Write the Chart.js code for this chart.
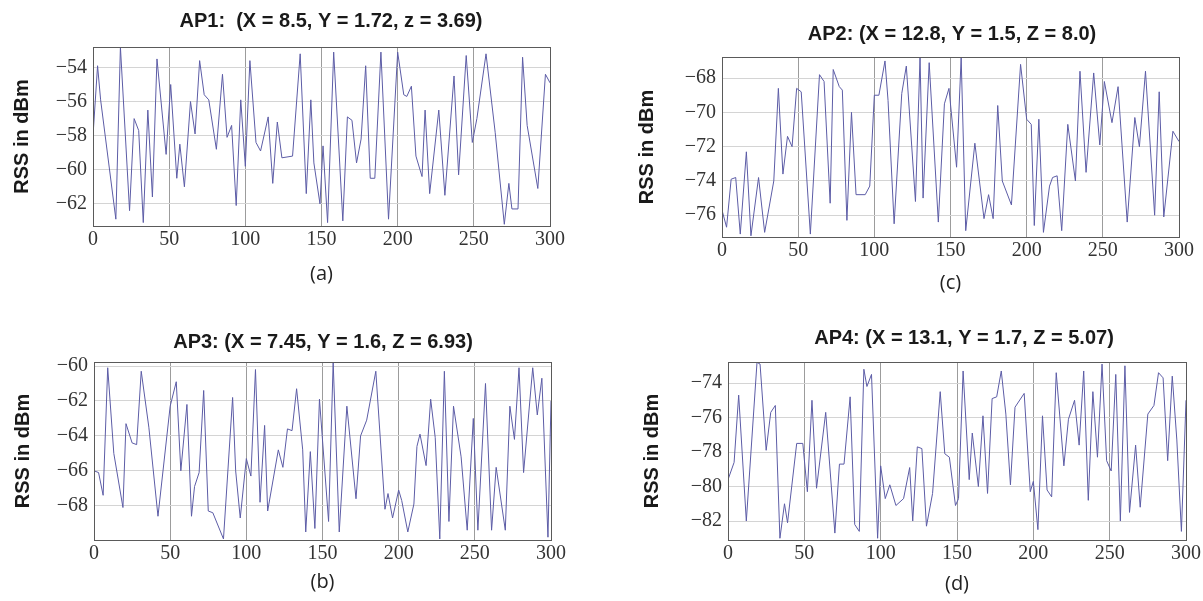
<!DOCTYPE html>
<html>
<head>
<meta charset="utf-8">
<title>RSS per access point</title>
<script src="https://cdn.jsdelivr.net/npm/chart.js@4.4.0/dist/chart.umd.min.js"></script>
<style>
    body { margin: 0; background: #fff; }
    .panel { position: absolute; }
</style>
</head>
<body>
<div class="panel" style="left:0px;top:0px;width:601px;height:300px"><canvas id="ap1"></canvas></div>
<div class="panel" style="left:601px;top:0px;width:602px;height:300px"><canvas id="ap2"></canvas></div>
<div class="panel" style="left:0px;top:300px;width:601px;height:301px"><canvas id="ap3"></canvas></div>
<div class="panel" style="left:601px;top:300px;width:602px;height:301px"><canvas id="ap4"></canvas></div>
<script>
// sample index ticks, shared by all panels
const xTicks = [0, 50, 100, 150, 200, 250, 300];

// AP1 (a)
const ap1Sample = [0, 3, 5, 15, 18, 24, 27, 30, 33, 36, 39, 42, 48, 51, 55, 57, 60, 64, 67, 70, 73, 76, 81, 85, 88, 91, 94, 97, 100, 103, 107, 110, 115, 118, 121, 124, 131, 136, 140, 143, 145, 149, 151, 154, 158, 164, 167, 170, 173, 176, 179, 182, 185, 189, 194, 200, 204, 206, 209, 212, 216, 218, 221, 227, 231, 237, 240, 245, 249, 252, 258, 264, 270, 273, 275, 279, 282, 285, 292, 297, 300];
const ap1Rss = [-58, -53.9, -55.9, -62.9, -52.8, -62.4, -57, -57.7, -63.1, -56.5, -61.6, -53.5, -59.1, -55, -60.5, -58.5, -61, -56, -57.9, -53.6, -55.6, -55.9, -58.8, -54.4, -58.1, -57.4, -62.1, -55.9, -59.8, -53.6, -58.4, -58.9, -56.9, -60.8, -57.2, -59.3, -59.2, -53.2, -61.4, -55.9, -59.6, -62, -58.6, -63.1, -53.1, -63, -56.9, -57.1, -59.6, -58.2, -53.9, -60.5, -60.5, -53.1, -62.9, -53.1, -55.6, -55.7, -55.1, -59.2, -60.4, -56.5, -61.4, -56.5, -61.5, -54.5, -60.3, -53.3, -58.4, -57, -53.2, -57.8, -63.2, -60.8, -62.3, -62.3, -53.4, -57.4, -61.1, -54.4, -54.9];
const ap1Ticks = [-62, -60, -58, -56, -54];

// AP2 (c)
const ap2Sample = [0, 3, 6, 9, 12, 16, 19, 24, 28, 34, 37, 40, 43, 46, 49, 52, 58, 64, 67, 71, 73, 77, 79, 82, 85, 88, 94, 97, 100, 103, 107, 109, 113, 118, 121, 127, 130, 132, 136, 142, 146, 149, 154, 157, 160, 166, 172, 175, 178, 181, 184, 190, 196, 200, 203, 205, 208, 211, 215, 217, 220, 223, 227, 232, 235, 239, 244, 248, 251, 256, 260, 266, 271, 274, 278, 284, 287, 290, 296, 300];
const ap2Rss = [-75.7, -76.7, -73.9, -73.8, -77.1, -72.3, -77.2, -73.8, -77, -74, -68.6, -73.6, -71.4, -72, -68.6, -68.8, -77.1, -67.8, -68.2, -75.3, -67.5, -68.5, -68.7, -76.3, -70, -74.8, -74.8, -74.3, -69, -69, -67, -69.3, -76.5, -68.9, -67.3, -75.2, -66.8, -75, -67.1, -76.4, -69.5, -68.6, -73.2, -66.8, -76.9, -71.8, -76.2, -74.8, -76.2, -69.6, -74, -75.4, -67.2, -70.4, -70.7, -76.6, -70.4, -77, -74.3, -73.8, -73.7, -76.9, -70.7, -74, -67.6, -73.5, -67.7, -71.9, -68.2, -70.6, -68.5, -76.4, -70.3, -72, -67.6, -76, -68.8, -76.1, -71.1, -71.7];
const ap2Ticks = [-76, -74, -72, -70, -68];

// AP3 (b)
const ap3Sample = [0, 3, 6, 9, 13, 19, 21, 25, 28, 31, 36, 42, 50, 54, 57, 61, 64, 66, 69, 72, 75, 78, 85, 91, 93, 96, 100, 103, 106, 109, 112, 114, 121, 124, 127, 130, 133, 137, 139, 142, 145, 148, 154, 157, 161, 166, 172, 175, 179, 185, 191, 193, 196, 200, 202, 206, 210, 212, 214, 218, 221, 224, 227, 230, 233, 236, 241, 245, 249, 252, 257, 261, 264, 270, 273, 276, 279, 282, 288, 291, 294, 298, 300];
const ap3Rss = [-66, -66.1, -67.4, -60.1, -65, -68.1, -63.3, -64.4, -64.5, -60.3, -63.5, -68.6, -62.3, -60.9, -66, -62.2, -68.6, -66.9, -66.1, -61.4, -68.3, -68.4, -69.9, -61.8, -66, -68.7, -65.3, -66.3, -60.2, -67.8, -63.4, -68.3, -64.8, -65.8, -63.6, -63.7, -61.3, -64.8, -69.5, -64.9, -69.3, -61.9, -68.9, -59.8, -69.5, -62.3, -67.6, -64, -63.1, -60.3, -68.2, -67.3, -68.7, -67.1, -67.7, -69.5, -67.9, -64.6, -63.9, -65.7, -61.9, -64.1, -69.9, -60.3, -68.9, -62.3, -65.2, -69.4, -63, -69.4, -61, -69.4, -65.8, -69.4, -62.3, -64.2, -60.1, -66.1, -60.1, -62.8, -60.7, -69.8, -62];
const ap3Ticks = [-68, -66, -64, -62, -60];

// AP4 (d)
const ap4Sample = [0, 4, 7, 12, 19, 21, 25, 28, 31, 34, 37, 39, 45, 49, 52, 55, 58, 64, 70, 73, 76, 80, 83, 86, 89, 91, 94, 98, 100, 103, 106, 110, 115, 119, 121, 124, 127, 130, 134, 139, 142, 145, 149, 151, 154, 158, 160, 164, 167, 170, 173, 176, 179, 182, 185, 188, 194, 198, 200, 203, 206, 209, 212, 215, 220, 223, 227, 230, 233, 236, 239, 242, 245, 248, 251, 254, 257, 260, 263, 267, 270, 275, 279, 282, 285, 288, 291, 294, 297, 300];
const ap4Rss = [-79.6, -78.6, -74.7, -82, -72.8, -72.9, -77.9, -75.7, -75.3, -83, -81, -82.1, -77.5, -77.5, -80.3, -75, -80.1, -75.7, -82.7, -78.7, -78.7, -74.8, -82.2, -82.6, -73.2, -74.2, -73.5, -83, -78.8, -80.7, -79.9, -81.1, -80.7, -78.9, -82, -77.7, -77.8, -82.3, -80.4, -74.5, -78.1, -78.3, -81.1, -80.7, -73.3, -79.6, -76.9, -80, -75.9, -80.4, -74.9, -74.8, -73.3, -75.8, -79.9, -75.4, -74.6, -80.3, -79.7, -82.5, -75.9, -80.2, -80.6, -73.4, -78.8, -76.1, -75, -77.6, -73.3, -80.8, -74.5, -78.3, -72.9, -78.5, -79.1, -73.5, -82, -73, -81.5, -77.6, -81.2, -75.8, -75.3, -73.4, -73.7, -78.5, -73.6, -77.3, -82.6, -75];
const ap4Ticks = [-82, -80, -78, -76, -74];

// frame around the plot + panel heading
const frameAndTitle = {
    id: 'frameAndTitle',
    afterDraw(chart, args, opts) {
        const ctx = chart.ctx;
        const a = chart.chartArea;
        ctx.save();
        ctx.strokeStyle = '#5a5a5a';
        ctx.lineWidth = 1;
        ctx.strokeRect(Math.round(a.left) + 0.5, Math.round(a.top) + 0.5,
            Math.round(a.right - a.left), Math.round(a.bottom - a.top));
        ctx.font = 'bold 20px "Liberation Sans", Arial, sans-serif';
        ctx.fillStyle = '#1a1a1a';
        ctx.textAlign = 'center';
        ctx.textBaseline = 'middle';
        ctx.fillText(opts.text, opts.x, opts.y);
        ctx.restore();
    }
};

function minusSign(v) {
    return v < 0 ? '\u2212' + Math.abs(v) : String(v);
}

function makePanel(id, p) {
    const canvas = document.getElementById(id);
    const cw = canvas.parentNode.clientWidth;
    const ch = canvas.parentNode.clientHeight;
    const xHeight = p.captionY + 12 - p.plot.b;

    new Chart(canvas.getContext('2d'), {
        type: 'line',
        data: {
            datasets: [{
                label: p.title,
                data: p.sample.map((x, i) => ({ x: x, y: p.rss[i] })),
                borderColor: '#5c5ca6',
                borderWidth: 1,
                pointRadius: 0,
                tension: 0,
                fill: false
            }]
        },
        options: {
            responsive: true,
            maintainAspectRatio: false,
            animation: false,
            layout: {
                padding: {
                    left: 0,
                    top: p.plot.t,
                    right: cw - p.plot.r,
                    bottom: ch - p.plot.b - xHeight
                }
            },
            scales: {
                x: {
                    type: 'linear',
                    min: 0,
                    max: 300,
                    afterBuildTicks: s => { s.ticks = xTicks.map(v => ({ value: v })); },
                    afterFit: s => { s.height = xHeight; },
                    grid: { color: '#9c9c9c', drawTicks: false },
                    border: { display: false },
                    ticks: {
                        autoSkip: false,
                        maxRotation: 0,
                        padding: 2,
                        color: '#333',
                        font: { family: '"Liberation Serif", serif', size: 20 }
                    },
                    title: {
                        display: true,
                        text: p.caption,
                        color: '#222',
                        padding: 0,
                        font: { family: '"Open Sans", sans-serif', size: 20 }
                    }
                },
                y: {
                    min: p.yMin,
                    max: p.yMax,
                    afterBuildTicks: s => { s.ticks = p.yTicks.map(v => ({ value: v })); },
                    afterFit: s => { s.width = p.plot.l; },
                    grid: { color: '#d4d4d4', drawTicks: false },
                    border: { display: false },
                    ticks: {
                        padding: 6,
                        color: '#333',
                        callback: v => minusSign(v),
                        font: { family: '"Liberation Serif", serif', size: 20 }
                    },
                    title: {
                        display: true,
                        text: 'RSS in dBm',
                        color: '#1a1a1a',
                        padding: { top: p.yTitleX - 12, bottom: 0 },
                        font: { family: '"Liberation Sans", Arial, sans-serif', size: 20, weight: 'bold' }
                    }
                }
            },
            plugins: {
                legend: { display: false },
                tooltip: { enabled: false },
                frameAndTitle: { text: p.title, x: p.titleX, y: p.titleY }
            }
        },
        plugins: [frameAndTitle]
    });
}

makePanel('ap1', {
    title: 'AP1:  (X = 8.5, Y = 1.72, z = 3.69)', caption: '(a)',
    sample: ap1Sample, rss: ap1Rss, yTicks: ap1Ticks, yMin: -63.3, yMax: -52.8,
    plot: { l: 93, t: 47, r: 550, b: 226 }, titleX: 331, titleY: 21, yTitleX: 22, captionY: 274
});
makePanel('ap2', {
    title: 'AP2: (X = 12.8, Y = 1.5, Z = 8.0)', caption: '(c)',
    sample: ap2Sample, rss: ap2Rss, yTicks: ap2Ticks, yMin: -77.27, yMax: -66.77,
    plot: { l: 121, t: 57, r: 578, b: 237 }, titleX: 351, titleY: 34, yTitleX: 46, captionY: 283
});
makePanel('ap3', {
    title: 'AP3: (X = 7.45, Y = 1.6, Z = 6.93)', caption: '(b)',
    sample: ap3Sample, rss: ap3Rss, yTicks: ap3Ticks, yMin: -69.96, yMax: -59.77,
    plot: { l: 94, t: 62, r: 551, b: 240 }, titleX: 323, titleY: 42, yTitleX: 23, captionY: 282
});
makePanel('ap4', {
    title: 'AP4: (X = 13.1, Y = 1.7, Z = 5.07)', caption: '(d)',
    sample: ap4Sample, rss: ap4Rss, yTicks: ap4Ticks, yMin: -83.1, yMax: -72.78,
    plot: { l: 127, t: 62, r: 585, b: 240 }, titleX: 363, titleY: 38, yTitleX: 51, captionY: 284
});
</script>
</body>
</html>
